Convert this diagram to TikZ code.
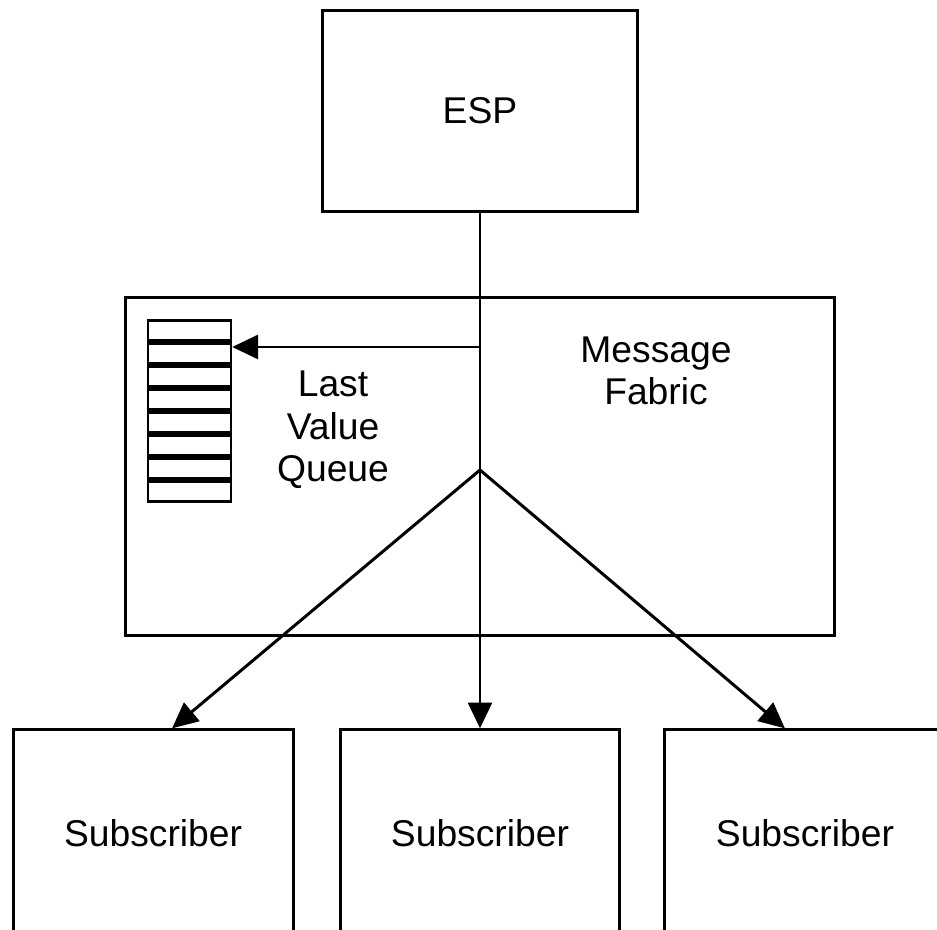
\documentclass[tikz,border=0pt]{standalone}
\usepackage{fontspec}
\setmainfont{Liberation Sans}
\usetikzlibrary{positioning,arrows.meta,calc}

\tikzset{
  box/.style={draw, line width=1.7pt, minimum width=#1, align=center,
    font=\fontsize{21.2}{24.1}\selectfont},
  box/.default=5.6cm,
  label/.style={align=center, font=\fontsize{21.2}{24.1}\selectfont},
  link/.style={line width=1.7pt, -{Triangle[length=14.7pt,width=13.6pt]}},
  slot/.style={line width=3.3pt},
}

\begin{document}
\begin{tikzpicture}[x=0.02cm, y=0.02cm]

    \clip (0,0) rectangle (937,930);

    % Define nodes
    \node[box=6.3cm, minimum height=4.04cm]  (esp) at (480,819) {ESP};
    \node[box=14.2cm, minimum height=6.76cm, below=1.66cm of esp] (fabric) {};
    \node[box, minimum height=4.12cm, below=1.82cm of fabric] (subm) {Subscriber};
    \node[box, minimum height=4.12cm, left=0.88cm of subm]    (subl) {Subscriber};
    \node[box, minimum height=4.12cm, right=0.84cm of subm]   (subr) {Subscriber};

    % queue inside the fabric
    \node[draw, line width=1.5pt, minimum width=1.66cm, minimum height=3.62cm,
      below right=0.46cm and 0.46cm of fabric.north west] (queue) {};
    \foreach \i in {1,...,7}
      \draw[slot] ($(queue.north west)!\i/8!(queue.south west)$)
        -- ($(queue.north east)!\i/8!(queue.south east)$);

    % labels
    \node[label] (lvq) at (333,500) {Last\\Value\\Queue};
    \node[label] (fab) at (656,559) {Message\\Fabric};

    % Connect the nodes
    \coordinate (tap)   at (480,583);
    \coordinate (split) at (480,460);
    \draw[link] (esp.south) -- (subm.north);
    \draw[link] (tap) -- (tap -| queue.east);
    \draw[link] (split) -- ([xshift=0.38cm]subl.north);
    \draw[link] (split) -- ([xshift=-0.4cm]subr.north);

  \end{tikzpicture}
\end{document}
